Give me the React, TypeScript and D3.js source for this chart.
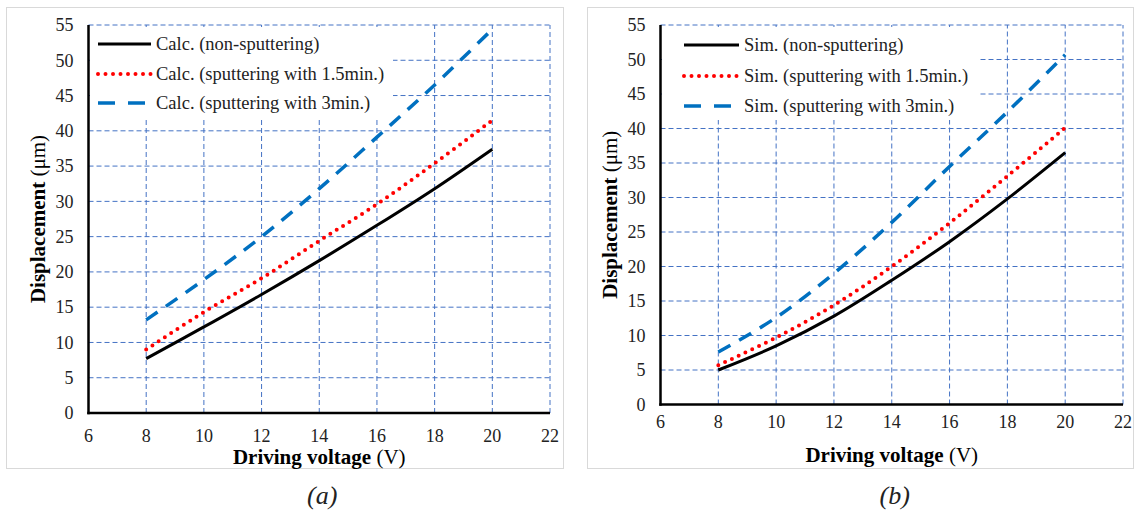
import React from "react";
import * as d3 from "d3";

const voltages = [8, 10, 12, 14, 16, 18, 20];
const calcNon = [7.7, 12.2, 16.8, 21.6, 26.6, 31.8, 37.4];
const calc15 = [9.0, 14.3, 19.1, 24.4, 29.6, 35.4, 41.5];
const calc3 = [13.2, 18.9, 25.0, 31.8, 39.1, 46.5, 54.4];
const simNon = [5.0, 8.5, 12.8, 18.0, 23.6, 29.8, 36.5];
const sim15 = [5.7, 9.7, 14.4, 20.0, 26.3, 33.1, 40.1];
const sim3 = [7.6, 12.6, 19.0, 26.4, 34.5, 42.4, 50.7];

const xTicks = [6, 8, 10, 12, 14, 16, 18, 20, 22];
const yTicks = [0, 5, 10, 15, 20, 25, 30, 35, 40, 45, 50, 55];

const calcLabels = [
  "Calc. (non-sputtering)",
  "Calc. (sputtering with 1.5min.)",
  "Calc. (sputtering with 3min.)",
];
const simLabels = [
  "Sim. (non-sputtering)",
  "Sim. (sputtering with 1.5min.)",
  "Sim. (sputtering with 3min.)",
];

const FONT = "'Liberation Serif', 'Times New Roman', serif";
const GRID = "#4472C4";

const styles = [
  { stroke: "#000000", width: 3, dash: undefined as string | undefined, cap: "butt" as const },
  { stroke: "#FF0000", width: 4, dash: "0,7.5", cap: "round" as const },
  { stroke: "#0070C0", width: 3.5, dash: "14,10", cap: "butt" as const },
];

type PanelProps = {
  border: [number, number, number, number];
  plot: { x0: number; x1: number; y0: number; y1: number };
  series: number[][];
  labels: string[];
  legend: { x0: number; x1: number; y0: number; y1: number; lineX0: number; lineX1: number; textX: number; rows: number[] };
  yTitleX: number;
  xTickY: number;
  xTitleY: number;
  caption: string;
};

function Panel({ border, plot, series, labels, legend, yTitleX, xTickY, xTitleY, caption }: PanelProps) {
  const x = d3.scaleLinear().domain([6, 22]).range([plot.x0, plot.x1]);
  const y = d3.scaleLinear().domain([0, 55]).range([plot.y0, plot.y1]);
  const line = d3
    .line<[number, number]>()
    .x((d) => x(d[0]))
    .y((d) => y(d[1]))
    .curve(d3.curveCatmullRom.alpha(0.5));
  const cx = (plot.x0 + plot.x1) / 2;
  const cy = (plot.y0 + plot.y1) / 2;
  return (
    <g>
      <rect
        x={border[0]}
        y={border[1]}
        width={border[2] - border[0]}
        height={border[3] - border[1]}
        fill="#fff"
        stroke="#D9D9D9"
        strokeWidth={1}
      />
      {yTicks
        .filter((t) => t > 0)
        .map((t) => (
          <line
            key={"h" + t}
            x1={plot.x0}
            x2={plot.x1}
            y1={y(t)}
            y2={y(t)}
            stroke={GRID}
            strokeWidth={1}
            strokeDasharray="5,3"
          />
        ))}
      {xTicks
        .filter((t) => t > 6)
        .map((t) => (
          <line
            key={"v" + t}
            x1={x(t)}
            x2={x(t)}
            y1={plot.y0}
            y2={plot.y1}
            stroke={GRID}
            strokeWidth={1}
            strokeDasharray="5,3"
          />
        ))}
      <rect
        x={legend.x0}
        y={legend.y0}
        width={legend.x1 - legend.x0}
        height={legend.y1 - legend.y0}
        fill="#fff"
      />
      {series.map((s, i) => (
        <path
          key={"s" + i}
          d={line(voltages.map((v, j) => [v, s[j]] as [number, number])) || ""}
          fill="none"
          stroke={styles[i].stroke}
          strokeWidth={styles[i].width}
          strokeDasharray={styles[i].dash}
          strokeLinecap={styles[i].cap}
        />
      ))}
      <line x1={plot.x0} x2={plot.x0} y1={plot.y1} y2={plot.y0 + 1.25} stroke="#000" strokeWidth={2.5} />
      <line x1={plot.x0 - 1.25} x2={plot.x1} y1={plot.y0} y2={plot.y0} stroke="#000" strokeWidth={2.5} />
      {yTicks.map((t) => (
        <text
          key={"yl" + t}
          x={plot.x0 - 15}
          y={y(t)}
          dy="0.35em"
          textAnchor="end"
          fontFamily={FONT}
          fontSize={18}
          fill="#222"
        >
          {t}
        </text>
      ))}
      {xTicks.map((t) => (
        <text
          key={"xl" + t}
          x={x(t)}
          y={xTickY}
          textAnchor="middle"
          fontFamily={FONT}
          fontSize={18}
          fill="#222"
        >
          {t}
        </text>
      ))}
      <text x={cx} y={xTitleY} textAnchor="middle" fontFamily={FONT} fontSize={21} fill="#000">
        <tspan fontWeight="bold">Driving voltage</tspan>
        <tspan> (V)</tspan>
      </text>
      <text
        transform={`translate(${yTitleX},${cy}) rotate(-90)`}
        textAnchor="middle"
        fontFamily={FONT}
        fontSize={21}
        fill="#000"
      >
        <tspan fontWeight="bold">Displacement</tspan>
        <tspan> (μm)</tspan>
      </text>
      {labels.map((lab, i) => (
        <g key={"lg" + i}>
          <line
            x1={legend.lineX0}
            x2={legend.lineX1}
            y1={legend.rows[i]}
            y2={legend.rows[i]}
            stroke={styles[i].stroke}
            strokeWidth={styles[i].width}
            strokeDasharray={i === 2 ? "17,13" : styles[i].dash}
            strokeLinecap={styles[i].cap}
          />
          <text
            x={legend.textX}
            y={legend.rows[i]}
            dy="0.35em"
            fontFamily={FONT}
            fontSize={18.5}
            fill="#222"
          >
            {lab}
          </text>
        </g>
      ))}
      <text
        x={cx + 3}
        y={504}
        textAnchor="middle"
        fontFamily={FONT}
        fontSize={26}
        fontStyle="italic"
        fill="#222"
      >
        {caption}
      </text>
    </g>
  );
}

export default function App() {
  return (
    <svg
      width={1136}
      height={513}
      style={{ position: "absolute", left: 0, top: 0, background: "#fff" }}
    >
      <rect x={0} y={0} width={1136} height={513} fill="#fff" />
      <Panel
        border={[6.5, 7.5, 563.5, 468.5]}
        plot={{ x0: 88.5, x1: 550, y0: 413, y1: 25 }}
        series={[calcNon, calc15, calc3]}
        labels={calcLabels}
        legend={{ x0: 90, x1: 393, y0: 27, y1: 120, lineX0: 98, lineX1: 151, textX: 156, rows: [44, 74, 103] }}
        yTitleX={45}
        xTickY={442}
        xTitleY={464}
        caption="(a)"
      />
      <Panel
        border={[587.5, 7.5, 1133.5, 468.5]}
        plot={{ x0: 660.5, x1: 1123, y0: 404.5, y1: 25 }}
        series={[simNon, sim15, sim3]}
        labels={simLabels}
        legend={{ x0: 662, x1: 978, y0: 27, y1: 120, lineX0: 684, lineX1: 739, textX: 744, rows: [45, 76, 106] }}
        yTitleX={617}
        xTickY={428}
        xTitleY={462}
        caption="(b)"
      />
    </svg>
  );
}
